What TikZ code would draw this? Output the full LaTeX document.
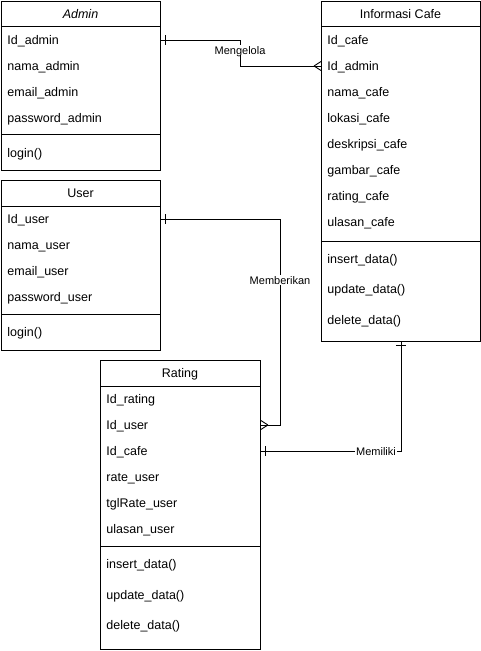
\documentclass[tikz,border=0pt]{standalone}
\usepackage{fontspec}
\setmainfont{Liberation Sans}
\usetikzlibrary{positioning}

\tikzset{
  box/.style={draw,anchor=north west,inner sep=0pt},
  attr/.style={anchor=west,inner sep=0pt,text height=8.8pt,text depth=0pt,font=\fontsize{12.5}{14}\selectfont},
  head/.style={inner sep=0pt,text height=8.8pt,text depth=0pt,font=\fontsize{12.5}{14}\selectfont},
  lbl/.style={fill=white,inner sep=0.5pt,text height=8pt,text depth=0pt,font=\fontsize{11}{13}\selectfont},
  onebar/.pic={\draw (0,-5) -- (0,5);},
  crowfoot/.pic={\draw (-7,0) -- (0,-4.5) (-7,0) -- (0,4.5);}
}

\begin{document}
\begin{tikzpicture}[x=1pt,y=-1pt,line width=0.9pt]
\useasboundingbox (0,0) rectangle (481,651);

% Admin
\node[box,minimum width=159pt,minimum height=169pt] (adminbox) at (1,1) {};
\draw (1,26) -- (160,26) (1,134) -- (160,134);
\node[head] (admin) at (80.5,14) {\itshape Admin};
\node[attr] (idadmin) at (7,40) {Id\_admin};
\node[attr] (namaadmin) at (7,66) {nama\_admin};
\node[attr] (emailadmin) at (7,92) {email\_admin};
\node[attr] (passadmin) at (7,118) {password\_admin};
\node[attr] (loginadmin) at (7,153) {login()};

% Informasi Cafe
\node[box,minimum width=159pt,minimum height=340pt] (cafebox) at (321,1) {};
\draw (321,26) -- (480,26) (321,241) -- (480,241);
\node[head] (cafe) at (400.5,14) {Informasi Cafe};
\node[attr] (idcafe) at (327,40) {Id\_cafe};
\node[attr] (cafeidadmin) at (327,66) {Id\_admin};
\node[attr] (namacafe) at (327,92) {nama\_cafe};
\node[attr] (lokasicafe) at (327,118) {lokasi\_cafe};
\node[attr] (deskcafe) at (327,144) {deskripsi\_cafe};
\node[attr] (gambarcafe) at (327,170) {gambar\_cafe};
\node[attr] (ratingcafe) at (327,196) {rating\_cafe};
\node[attr] (ulasancafe) at (327,222) {ulasan\_cafe};
\node[attr] (insertcafe) at (327,259) {insert\_data()};
\node[attr] (updatecafe) at (327,289) {update\_data()};
\node[attr] (deletecafe) at (327,320) {delete\_data()};

% User
\node[box,minimum width=159pt,minimum height=170pt] (userbox) at (1,180) {};
\draw (1,206) -- (160,206) (1,314) -- (160,314);
\node[head] (user) at (80.5,193) {User};
\node[attr] (iduser) at (7,219) {Id\_user};
\node[attr] (namauser) at (7,245) {nama\_user};
\node[attr] (emailuser) at (7,271) {email\_user};
\node[attr] (passuser) at (7,297) {password\_user};
\node[attr] (loginuser) at (7,332) {login()};

% Rating
\node[box,minimum width=160pt,minimum height=289pt] (ratingbox) at (100,360) {};
\draw (100,386) -- (260,386) (100,546) -- (260,546);
\node[head] (rating) at (180,373) {Rating};
\node[attr] (idrating) at (106,399) {Id\_rating};
\node[attr] (ratiduser) at (106,425) {Id\_user};
\node[attr] (ratidcafe) at (106,451) {Id\_cafe};
\node[attr] (rateuser) at (106,477) {rate\_user};
\node[attr] (tglrate) at (106,503) {tglRate\_user};
\node[attr] (ulasanuser) at (106,529) {ulasan\_user};
\node[attr] (insertrat) at (106,564) {insert\_data()};
\node[attr] (updaterat) at (106,595) {update\_data()};
\node[attr] (deleterat) at (106,625) {delete\_data()};

% relasi
\node[lbl] (mengelola) at (240,50) {Mengelola};
\draw (idadmin -| adminbox.east) -| (mengelola) |- (cafeidadmin -| cafebox.west);
\path (idadmin -| adminbox.east) ++(5,0) pic {onebar};
\path (cafeidadmin -| cafebox.west) pic {crowfoot};

\node[lbl] (memberikan) at (280,280) {Memberikan};
\draw (iduser -| userbox.east) -| (memberikan) |- (ratiduser -| ratingbox.east);
\path (iduser -| userbox.east) ++(5,0) pic {onebar};
\path (ratiduser -| ratingbox.east) pic[xscale=-1] {crowfoot};

\node[lbl] (memiliki) at (376,451) {Memiliki};
\draw (cafebox.south) |- (memiliki) -- (ratidcafe -| ratingbox.east);
\path (cafebox.south) ++(0,4) pic[rotate=90] {onebar};
\path (ratidcafe -| ratingbox.east) ++(5,0) pic {onebar};
\end{tikzpicture}
\end{document}
